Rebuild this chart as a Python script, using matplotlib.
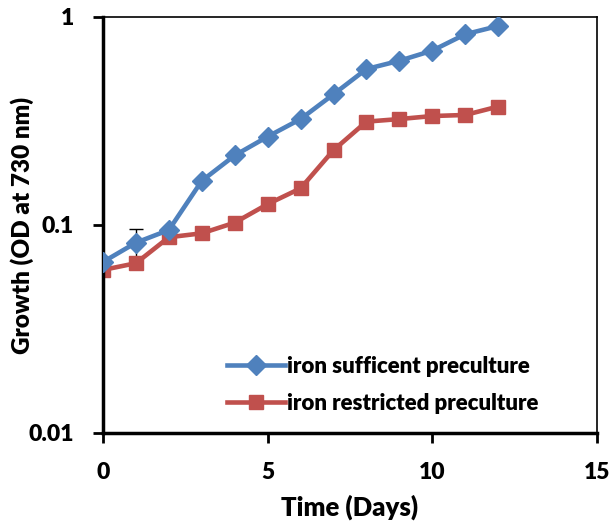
import matplotlib.pyplot as plt

days = [0, 1, 2, 3, 4, 5, 6, 7, 8, 9, 10, 11, 12]
sufficient = [0.0664, 0.0822, 0.0946, 0.163, 0.216, 0.266, 0.323, 0.425, 0.562, 0.616, 0.689, 0.826, 0.905]
restricted = [0.0608, 0.0655, 0.0873, 0.0912, 0.1026, 0.126, 0.150, 0.229, 0.314, 0.323, 0.334, 0.338, 0.371]
sufficient_err = [0, 0.013, 0, 0, 0, 0, 0, 0, 0, 0, 0, 0, 0]

blue = '#4F81BD'
red = '#C0504D'

plt.rcParams['font.family'] = ['Lato', 'DejaVu Sans']
plt.rcParams['font.weight'] = 'heavy'

fig = plt.figure(figsize=(6.11, 5.24), dpi=100)
ax = fig.add_axes([0.1686, 0.1737, 0.8084, 0.7939])

# error bar only shown on day 1
ax.errorbar(days, sufficient, yerr=sufficient_err, fmt='none', ecolor='black',
            elinewidth=1, capsize=5, capthick=1, zorder=1)
ax.plot(days, sufficient, color=blue, lw=3.3, marker='D', markersize=10,
        label='iron sufficent preculture', zorder=3)
ax.plot(days, restricted, color=red, lw=3.3, marker='s', markersize=10.5,
        label='iron restricted preculture', zorder=2)

ax.set_yscale('log')
ax.set_ylim(0.01, 1)
ax.set_xlim(0, 15)
ax.set_xticks([0, 5, 10, 15])
ax.set_yticks([0.01, 0.1, 1])
ax.set_yticklabels(['0.01', '0.1', '1'])
ax.minorticks_off()
ax.tick_params(axis='both', labelsize=16.5, width=2, length=7, direction='out')
ax.tick_params(axis='x', pad=14)
ax.tick_params(axis='y', pad=14)

for s in ['left', 'bottom']:
    ax.spines[s].set_linewidth(2.5)
for s in ['top', 'right']:
    ax.spines[s].set_linewidth(1.2)

ax.set_xlabel('Time (Days)', fontsize=18.5, fontweight='heavy', labelpad=8)
ax.set_ylabel('Growth (OD at 730 nm)', fontsize=17.5, fontweight='heavy')
ax.yaxis.set_label_coords(-0.14, 0.5)

ax.legend(loc='lower left', bbox_to_anchor=(0.21, -0.003), frameon=False,
          handlelength=2.6, handletextpad=0.1, labelspacing=0.75,
          prop={'weight': 'heavy', 'size': 16})

fig.savefig('out.png', dpi=100)
